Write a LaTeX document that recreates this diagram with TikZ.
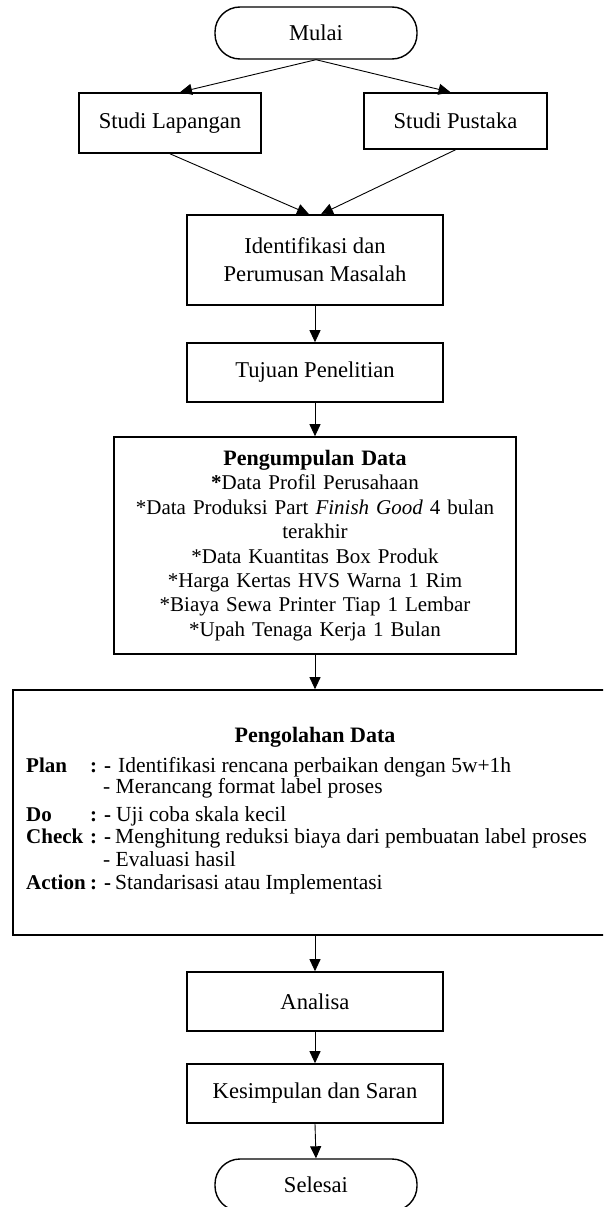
\documentclass[tikz,border=0pt]{standalone}
\usepackage{fontspec}
\setmainfont{Liberation Serif}
\usetikzlibrary{arrows.meta}
\tikzset{
  procbox/.style={draw, line width=1.6pt, minimum width=256pt, minimum height=59pt, align=center, inner sep=2pt, font=\fontsize{22.6}{28}\selectfont},
  termbox/.style={draw, line width=1.4pt, rounded corners=25pt, minimum width=202pt, minimum height=52pt, font=\fontsize{22.6}{26}\selectfont},
  flowarrow/.style={-{Triangle[length=12pt,width=11pt]}, line width=0.9pt},
  pdcalabel/.style={anchor=base west, inner sep=0pt, font=\fontsize{21}{24}\selectfont\bfseries},
  pdcatext/.style={anchor=base west, inner sep=0pt, font=\fontsize{21.5}{24}\selectfont},
}
\begin{document}
\begin{tikzpicture}[x=1pt,y=-1pt]
\useasboundingbox (0,0) rectangle (603,1207);
\clip (0,0) rectangle (603,1207);

\node[termbox] (mulai) at (316,33) {Mulai};
\node[procbox, minimum width=182pt, minimum height=60pt] (lapangan) at (170,123) {Studi Lapangan};
\node[procbox, minimum width=183pt, minimum height=56pt] (pustaka) at (455.5,121) {Studi Pustaka};
\node[procbox, minimum height=90pt] (identifikasi) at (315,260) {Identifikasi dan\\Perumusan Masalah};
\node[procbox] (tujuan) at (315,372.5) {Tujuan Penelitian};

\node[procbox, minimum width=402pt, minimum height=217pt, text width=390pt, font=\fontsize{21}{24.4}\selectfont] (kumpul) at (315,545.5)
  {{\bfseries\fontsize{22}{24.4}\selectfont Pengumpulan Data}\\
   \textbf{*}Data Profil Perusahaan\\
   {*}Data Produksi Part \textit{Finish Good} 4 bulan\\
   terakhir\\
   {*}Data Kuantitas Box Produk\\
   {*}Harga Kertas HVS Warna 1 Rim\\
   {*}Biaya Sewa Printer Tiap 1 Lembar\\
   {*}Upah Tenaga Kerja 1 Bulan};

\node[draw, line width=1.6pt, minimum width=607pt, minimum height=245pt] (pengolahan) at (316.5,812.5) {};
\node[anchor=base, inner sep=0pt, font=\fontsize{22}{24}\selectfont\bfseries] (olahtitle) at (315,742) {Pengolahan Data};
\node[pdcalabel] (plan) at (26,772) {Plan};
\node[pdcalabel] (plansep) at (90,772) {: -};
\node[pdcatext] (plan1) at (118,772) {Identifikasi rencana perbaikan dengan 5w+1h};
\node[pdcatext] (plan2) at (103,793) {- Merancang format label proses};
\node[pdcalabel] (do) at (26,821) {Do};
\node[pdcalabel] (dosep) at (90,821) {: -};
\node[pdcatext] (do1) at (116,821) {Uji coba skala kecil};
\node[pdcalabel] (check) at (26,843) {Check};
\node[pdcalabel] (checksep) at (90,843) {: -};
\node[pdcatext] (check1) at (115,843) {Menghitung reduksi biaya dari pembuatan label proses};
\node[pdcatext] (check2) at (103,866) {- Evaluasi hasil};
\node[pdcalabel] (action) at (26,889) {Action};
\node[pdcalabel] (actionsep) at (90,889) {: -};
\node[pdcatext] (action1) at (115,889) {Standarisasi atau Implementasi};

\node[procbox] (analisa) at (315,1001.5) {Analisa};
\node[procbox] (kesimpulan) at (315,1093.5) {Kesimpulan dan Saran};
\node[termbox] (selesai) at (316,1185) {Selesai};

\draw[flowarrow] (mulai.south) -- ([xshift=10pt]lapangan.north);
\draw[flowarrow] (mulai.south) -- ([xshift=-5pt]pustaka.north);
\draw[flowarrow] (lapangan.south) -- ([xshift=-6pt]identifikasi.north);
\draw[flowarrow] (pustaka.south) -- ([xshift=6pt]identifikasi.north);
\draw[flowarrow] (identifikasi.south) -- (tujuan.north);
\draw[flowarrow] (tujuan.south) -- (kumpul.north);
\draw[flowarrow] (kumpul.south) -- (kumpul.south |- pengolahan.north);
\draw[flowarrow] (analisa.north |- pengolahan.south) -- (analisa.north);
\draw[flowarrow] (analisa.south) -- (kesimpulan.north);
\draw[flowarrow] (kesimpulan.south) -- (selesai.north);
\end{tikzpicture}
\end{document}
